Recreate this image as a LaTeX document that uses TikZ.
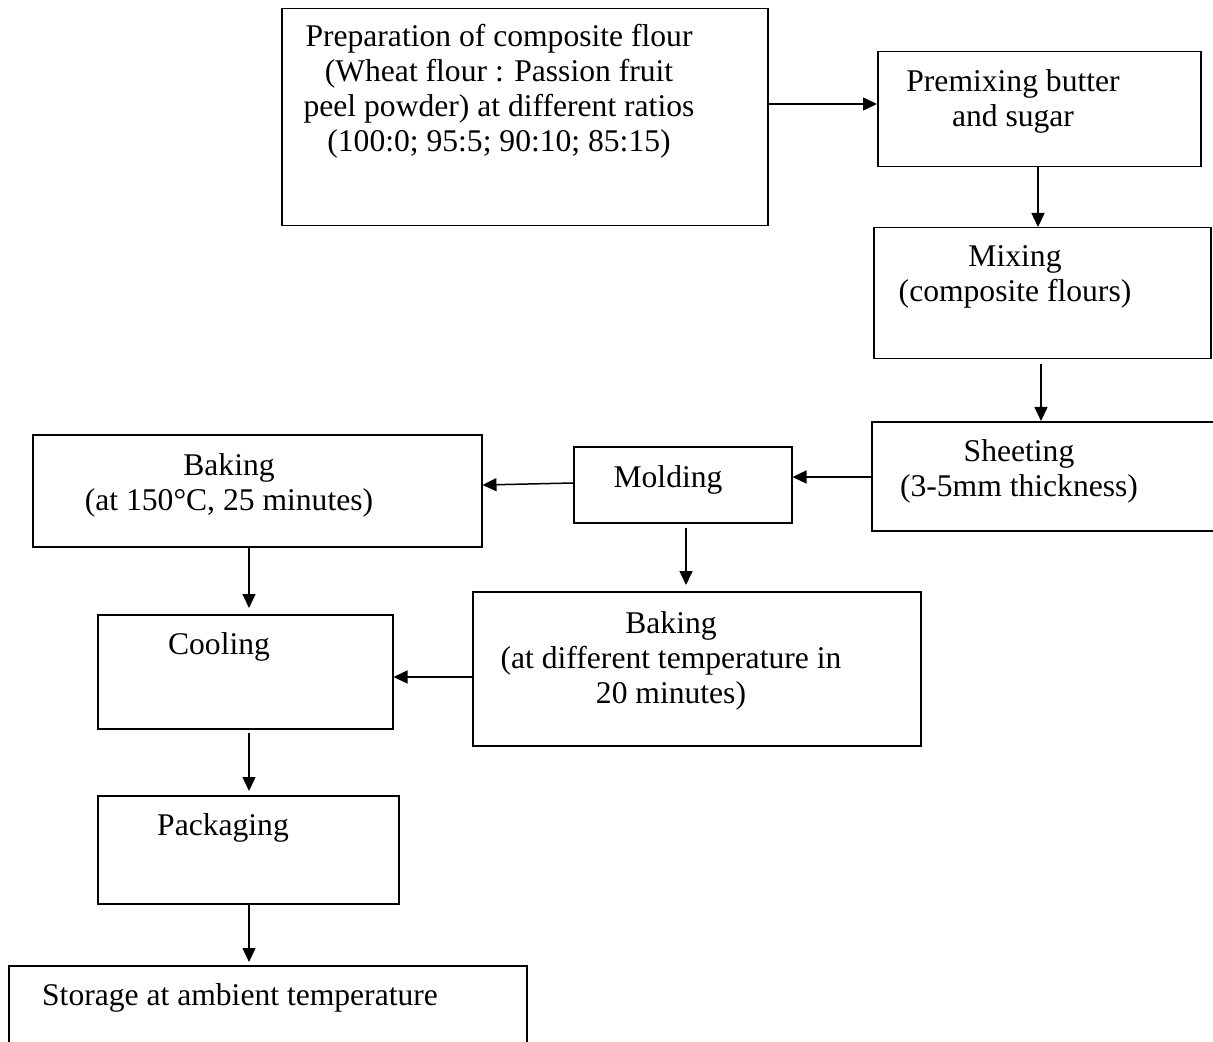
\documentclass[tikz,border=0pt]{standalone}
\usepackage{fontspec}
\setmainfont{Liberation Serif}
\usepackage{tikz}
\usetikzlibrary{arrows.meta,calc}
\tikzset{
    stepbox/.style 2 args={draw, line width=0.75pt, inner sep=0pt, anchor=north west,
        minimum width=#1*0.5pt, minimum height=#2*0.5pt},
    steptext/.style={anchor=base, align=center, inner sep=0pt},
    flow/.style={-{Triangle[length=7pt,width=6.5pt]}, line width=0.75pt}
}

\begin{document}
\begin{tikzpicture}[x=0.5pt,y=-0.5pt,font=\fontsize{15.8}{17.5}\selectfont]
    \useasboundingbox (0,0) rectangle (1213,1042);
    % boxes
    \node[stepbox={486}{217}] (prep) at (281,8) {};
    \node[stepbox={323}{115}] (premix) at (877,51) {};
    \node[stepbox={337}{131}] (mixing) at (873,227) {};
    \node[stepbox={346}{109}] (sheeting) at (871,421) {};
    \node[stepbox={218}{76}] (molding) at (573,446) {};
    \node[stepbox={449}{112}] (bakeA) at (32,434) {};
    \node[stepbox={448}{154}] (bakeB) at (472,591) {};
    \node[stepbox={295}{114}] (cooling) at (97,614) {};
    \node[stepbox={301}{108}] (packaging) at (97,795) {};
    \node[stepbox={518}{100}] (storage) at (8,965) {};
    % texts (base = last line)
    \node[steptext] (prepT) at (499,152) {Preparation of composite flour\\(Wheat flour : Passion fruit\\peel powder) at different ratios\\(100:0; 95:5; 90:10; 85:15)};
    \node[steptext] (premixT) at (1013,127) {Premixing butter\\and sugar};
    \node[steptext] (mixingT) at (1015,302) {Mixing\\(composite flours)};
    \node[steptext] (sheetingT) at (1019,496) {Sheeting\\(3-5mm thickness)};
    \node[steptext] (moldingT) at (668,487) {Molding};
    \node[steptext] (bakeAT) at (229,510) {Baking\\(at 150°C, 25 minutes)};
    \node[steptext] (bakeBT) at (671,703) {Baking\\(at different temperature in\\20 minutes)};
    \node[steptext] (coolingT) at (219,654) {Cooling};
    \node[steptext] (packagingT) at (223,835) {Packaging};
    \node[steptext] (storageT) at (240,1005) {Storage at ambient temperature};
    % arrows
    \draw[flow] (prep.east |- 0,104) -- (premix.west |- 0,104);
    \draw[flow] (premix.south -| 1038,0) -- (mixing.north -| 1038,0);
    \draw[flow, shorten <=2.5pt] (mixing.south -| 1041,0) -- (sheeting.north -| 1041,0);
    \draw[flow] (sheeting.west |- 0,477) -- (molding.east |- 0,477);
    \draw[flow] (molding.west |- 0,483) -- (bakeA.east |- 0,485);
    \draw[flow, shorten <=2pt, shorten >=3pt] (molding.south -| 686,0) -- (bakeB.north -| 686,0);
    \draw[flow] (bakeB.west |- 0,677) -- (cooling.east |- 0,677);
    \draw[flow, shorten >=3pt] (bakeA.south -| 249,0) -- (cooling.north -| 249,0);
    \draw[flow, shorten <=1.5pt, shorten >=2pt] (cooling.south -| 249,0) -- (packaging.north -| 249,0);
    \draw[flow, shorten >=1.5pt] (packaging.south -| 249,0) -- (storage.north -| 249,0);
\end{tikzpicture}
\end{document}
